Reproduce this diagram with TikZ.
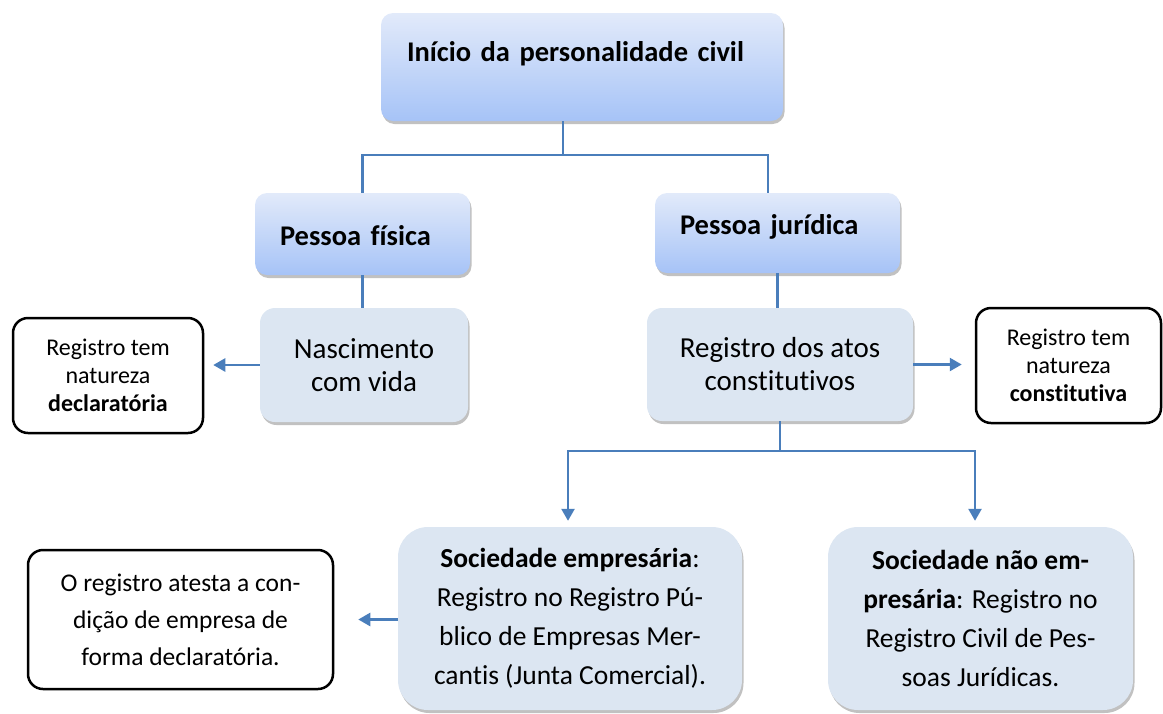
\documentclass[tikz,border=0pt]{standalone}
\usepackage{fontspec}
\setmainfont{Carlito}[Ligatures=NoCommon]
\usepackage{tikz}
\usetikzlibrary{arrows.meta, positioning, shadows}
\usepackage{xcolor}
\definecolor{topblue}{HTML}{E2EAFA}
\definecolor{botblue}{HTML}{A6C3F7}
\definecolor{paleblue}{HTML}{DCE6F2}
\definecolor{lineblue}{HTML}{4A7EBB}

\begin{document}
\begin{tikzpicture}[x=1pt, y=-1pt,
    softshadow/.style={drop shadow={opacity=0.35, fill=black!70, shadow xshift=1.5pt, shadow yshift=-3pt}},
    gradbox/.style={rounded corners=12pt, top color=topblue, bottom color=botblue, softshadow,
        inner sep=0pt, align=left, font=\bfseries\fontsize{28.5}{33}\selectfont},
    palebox/.style={rounded corners=15pt, fill=paleblue, softshadow, inner sep=0pt, align=center,
        font=\fontsize{29}{33}\selectfont},
    bigbox/.style={palebox, rounded corners=30pt, font=\fontsize{27.5}{39}\selectfont},
    notebox/.style={draw=black, line width=2.5pt, rounded corners=15pt, fill=white, inner sep=0pt,
        align=center, font=\fontsize{24}{28}\selectfont},
    link/.style={draw=lineblue, line width=2.5pt},
    arrow/.style={link, -{Triangle[width=13pt,length=12pt]}}]

    \useasboundingbox (0,0) rectangle (1163,713);

    % Boxes
    \node[gradbox, minimum width=402pt, minimum height=108pt, text width=350pt,
        text height=20pt, text depth=32pt] (inicio) at (582,67) {Início da personalidade civil};
    \node[gradbox, minimum width=215pt, minimum height=82pt, text width=165pt,
        text height=22pt, text depth=0pt] (pf) at (362.5,234) {Pessoa física};
    \node[gradbox, minimum width=245pt, minimum height=80pt, text width=195pt,
        text height=16pt, text depth=14pt] (pj) at (777.5,233) {Pessoa jurídica};

    \node[palebox, minimum width=208pt, minimum height=114pt] (nasc) at (364,365) {Nascimento\\com vida};
    \node[palebox, minimum width=266pt, minimum height=113pt] (reg) at (780,364.5) {Registro dos atos\\constitutivos};

    \node[notebox, minimum width=190pt, minimum height=115pt] (decl) at (108,375.5)
        {Registro tem\\natureza\\\textbf{declaratória}};
    \node[notebox, minimum width=185pt, minimum height=115pt] (const) at (1068.5,365.5)
        {Registro tem\\natureza\\\textbf{constitutiva}};

    \node[bigbox, minimum width=344pt, minimum height=183pt] (emp) at (570,618.5)
        {\textbf{Sociedade empresária}:\\Registro no Registro Pú-\\blico de Empresas Mer-\\cantis (Junta Comercial).};
    \node[bigbox, minimum width=305pt, minimum height=183pt] (nemp) at (980.5,618.5)
        {\textbf{Sociedade não em-}\\\textbf{presária}: Registro no\\Registro Civil de Pes-\\soas Jurídicas.};
    \node[notebox, minimum width=305pt, minimum height=139pt, font=\fontsize{25.5}{37}\selectfont] (atesta) at (180.5,619.5)
        {O registro atesta a con-\\dição de empresa de\\forma declaratória.};

    % Connectors
    \coordinate (fork1) at (563,155);
    \coordinate (fork2) at (780,451);
    \draw[link] ([xshift=-19pt]inicio.south) -- (fork1);
    \draw[link] (pf.north) |- (fork1) -| ([xshift=-9.5pt]pj.north);
    \draw[link] (pf.south) -- (pf.south |- nasc.north);
    \draw[link] (pj.south) -- (pj.south |- reg.north);
    \draw[arrow, shorten >=9pt] (nasc.west) -- (nasc.west -| decl.east);
    \draw[arrow, shorten >=13pt] (reg.east) -- (reg.east -| const.west);
    \draw[link] (reg.south) -- (fork2);
    \draw[arrow, shorten >=6pt] (fork2) -| ([xshift=-2pt]emp.north);
    \draw[arrow, shorten >=6pt] (fork2) -| ([xshift=-5.5pt]nemp.north);
    \draw[arrow, shorten >=24pt] (emp.west |- atesta.east) -- (atesta.east);
\end{tikzpicture}
\end{document}
